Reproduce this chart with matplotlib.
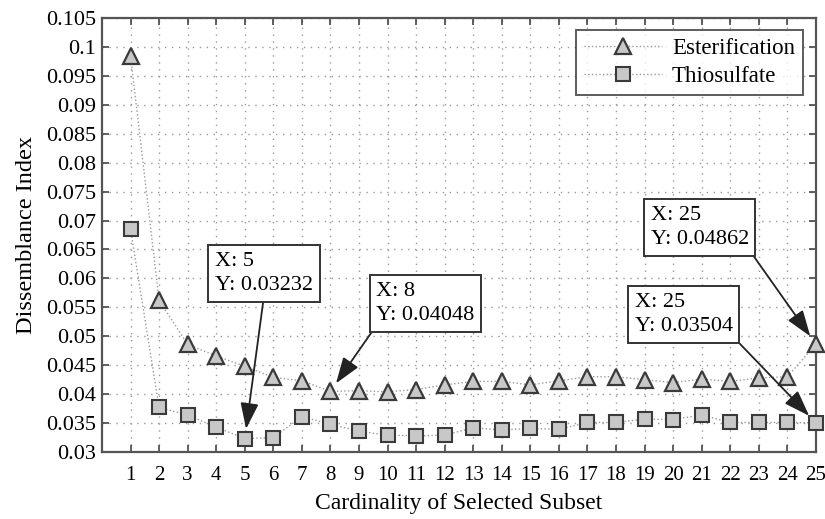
import numpy as np
import matplotlib
matplotlib.use("Agg")
import matplotlib.pyplot as plt
from matplotlib.ticker import FixedLocator, FuncFormatter

plt.rcParams["font.family"] = ["Liberation Serif", "DejaVu Serif"]

# Data
subset_size = list(range(1, 26))
esterification = [0.0985, 0.0562, 0.0486, 0.0466, 0.0448, 0.0429, 0.0423, 0.04048,
                  0.0406, 0.0404, 0.0408, 0.0416, 0.0422, 0.0422, 0.0416, 0.0423,
                  0.0430, 0.0430, 0.0425, 0.0420, 0.0426, 0.0422, 0.0428, 0.0430,
                  0.04862]
thiosulfate = [0.0685, 0.0377, 0.0364, 0.0343, 0.03232, 0.0325, 0.0361, 0.0348,
               0.0336, 0.0329, 0.0328, 0.0329, 0.0342, 0.0338, 0.0341, 0.0339,
               0.0351, 0.0351, 0.0357, 0.0356, 0.0364, 0.0351, 0.0351, 0.0351,
               0.03504]
series_names = ["Esterification", "Thiosulfate"]
y_ticks = [0.03, 0.035, 0.04, 0.045, 0.05, 0.055, 0.06, 0.065, 0.07, 0.075,
           0.08, 0.085, 0.09, 0.095, 0.1, 0.105]

fig = plt.figure(figsize=(8.25, 5.19), dpi=100)
ax = fig.add_axes([0.1236, 0.1291, 0.8654, 0.8362])

edge = "#3a3a3a"
fill = "#c8c8c8"
ax.plot(subset_size, esterification, linestyle=":", color="#9a9a9a", lw=1.0,
        marker="^", ms=12, mfc=fill, mec=edge, mew=1.6, label=series_names[0],
        clip_on=False, zorder=4)
ax.plot(subset_size, thiosulfate, linestyle=":", color="#9a9a9a", lw=1.0,
        marker="s", ms=9.5, mfc=fill, mec=edge, mew=1.5, label=series_names[1],
        clip_on=False, zorder=4)

ax.set_xlim(0, 25)
ax.set_ylim(0.03, 0.105)
ax.xaxis.set_major_locator(FixedLocator(subset_size))
ax.yaxis.set_major_locator(FixedLocator(y_ticks))
ax.yaxis.set_major_formatter(FuncFormatter(lambda v, p: "{:g}".format(round(v, 4))))

ax.tick_params(direction="in", length=5, width=1.2, color="#444444",
               top=True, right=True)
ax.tick_params(axis="y", labelsize=16, pad=4)
ax.tick_params(axis="x", labelsize=15, pad=10)
for s in ax.spines.values():
    s.set_linewidth(1.6)
    s.set_color("#555555")

ax.grid(True, linestyle=(0, (1, 4)), color="#999999", linewidth=1.0)
ax.set_axisbelow(True)

ax.set_xlabel("Cardinality of Selected Subset", fontsize=17, labelpad=6)
ax.set_ylabel("Dissemblance Index", fontsize=17.5, labelpad=7)

leg = ax.legend(loc="upper right", bbox_to_anchor=(0.982, 0.972), fontsize=16.5,
                frameon=True, fancybox=False, edgecolor="#333333",
                handlelength=3.4, borderpad=0.35, labelspacing=0.3,
                handletextpad=0.45, borderaxespad=0.0)
leg.get_frame().set_linewidth(1.4)
leg.get_frame().set_facecolor("white")

box = dict(boxstyle="square,pad=0.3", fc="white", ec="#333333", lw=1.4)
arrow = dict(arrowstyle="-|>,head_length=1.0,head_width=0.35", color="#222222",
             lw=1.3, shrinkA=0, shrinkB=7)

def tip(x, y, text_pos, rel):
    ax.annotate("X: {}\nY: {:.5f}".format(x, y).rstrip("0"), xy=(x, y),
                xytext=text_pos, textcoords="data", fontsize=16,
                ha="left", va="top", linespacing=1.38, bbox=box,
                arrowprops=dict(arrow, relpos=rel), zorder=6,
                annotation_clip=False)

tip(5, thiosulfate[4], (3.96, 0.06456), (0.5, 0.0))
tip(8, esterification[7], (9.61, 0.05938), (0.0, 0.0))
tip(25, esterification[24], (19.21, 0.07251), (1.0, 0.0))
tip(25, thiosulfate[24], (18.65, 0.05748), (1.0, 0.0))

fig.savefig("out.png", dpi=100)
